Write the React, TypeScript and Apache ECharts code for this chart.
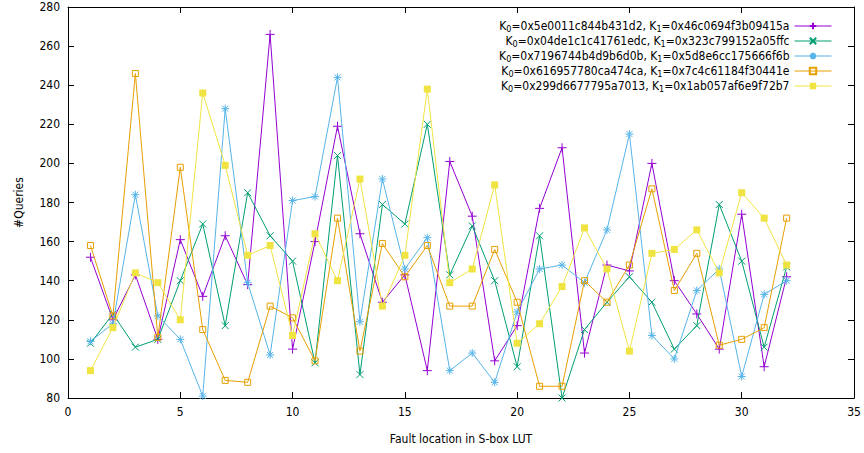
import React, { useEffect, useRef } from "react";
import * as echarts from "echarts";

const faultLocations = [1, 2, 3, 4, 5, 6, 7, 8, 9, 10, 11, 12, 13, 14, 15, 16, 17, 18, 19, 20, 21, 22, 23, 24, 25, 26, 27, 28, 29, 30, 31, 32];

const queriesA = [152, 120, 143, 110, 161, 132, 163, 138, 266, 105, 160, 219, 164, 129, 143, 94, 201, 173, 99, 117, 177, 208, 103, 148, 145, 200, 140, 123, 105, 174, 96, 142];
const queriesB = [108, 123, 106, 110, 140, 169, 117, 185, 163, 150, 98, 204, 92, 179, 169, 220, 143, 168, 140, 96, 163, 80, 115, 129, 142, 129, 105, 117, 179, 150, 106, 147];
const queriesC = [109, 118, 184, 122, 110, 81, 228, 139, 102, 181, 183, 244, 119, 192, 146, 162, 94, 103, 88, 124, 146, 148, 139, 166, 215, 112, 100, 135, 146, 91, 133, 140];
const queriesD = [158, 122, 246, 111, 198, 115, 89, 88, 127, 121, 99, 172, 104, 159, 142, 158, 127, 127, 156, 129, 86, 86, 140, 129, 148, 187, 135, 154, 107, 110, 116, 172];
const queriesE = [94, 116, 144, 139, 120, 236, 199, 153, 158, 112, 164, 140, 192, 127, 153, 238, 139, 146, 189, 108, 118, 137, 167, 146, 104, 154, 156, 166, 144, 185, 172, 148];

const seriesNames = [
  "K0=0x5e0011c844b431d2, K1=0x46c0694f3b09415a",
  "K0=0x04de1c1c41761edc, K1=0x323c799152a05ffc",
  "K0=0x7196744b4d9b6d0b, K1=0x5d8e6cc175666f6b",
  "K0=0x616957780ca474ca, K1=0x7c4c61184f30441e",
  "K0=0x299d6677795a7013, K1=0x1ab057af6e9f72b7",
];

const xTitle = "Fault location in S-box LUT";
const yTitle = "#Queries";

const FONT = "'DejaVu Sans Condensed', 'DejaVu Sans', sans-serif";

const colors = ["#9400d3", "#009e73", "#56b4e9", "#e69f00", "#f0e442"];
const symbols = [
  "path://M0,5L10,5M5,0L5,10",
  "path://M0,0L8,8M8,0L0,8",
  "path://M0,4L8,4M4,0L4,8M1,1L7,7M7,1L1,7",
  "path://M0,0L8,0L8,8L0,8Z",
  "rect",
];
const symbolSizes = [9, 7, 8, 6, 7];

function pair(vals: number[]) {
  return faultLocations.map((x, i) => [x, vals[i]]);
}

export default function App() {
  const ref = useRef<HTMLDivElement>(null);
  useEffect(() => {
    document.body.style.margin = "0";
    const chart = echarts.init(ref.current!, null, { renderer: "svg" });
    const allData = [queriesA, queriesB, queriesC, queriesD, queriesE];
    const series = allData.map((vals, i) => ({
      name: seriesNames[i],
      type: "line",
      data: pair(vals),
      symbol: symbols[i],
      symbolSize: symbolSizes[i],
      showAllSymbol: true,
      lineStyle: { color: colors[i], width: 1 },
      itemStyle:
        i === 3
          ? { color: "rgba(0,0,0,0)", borderColor: colors[i], borderWidth: 1 }
          : i === 4
          ? { color: colors[i] }
          : { color: colors[i], borderColor: colors[i], borderWidth: 1 },
      emphasis: { disabled: true },
      z: 2 + i,
    }));
    const axisCommon = {
      axisLine: { show: true, onZero: false, lineStyle: { color: "#000", width: 1 } },
      axisTick: { show: true, inside: true, length: 6, lineStyle: { color: "#000" } },
      splitLine: { show: false },
    };
    chart.setOption({
      animation: false,
      backgroundColor: "#fff",
      textStyle: { fontFamily: FONT },
      grid: { left: 68, right: 10, top: 7, bottom: 55 },
      legend: {
        orient: "vertical",
        right: 27,
        top: 15,
        align: "right",
        itemWidth: 37,
        itemHeight: 8,
        itemGap: 2,
        selectedMode: false,
        data: seriesNames,
        lineStyle: { width: 1 },
        formatter: (n: string) => n.replace(/K([01])=/g, "K{s|$1}="),
        textStyle: {
          color: "#000",
          fontSize: 12,
          fontFamily: FONT,
          rich: {
            s: { fontSize: 9, fontFamily: FONT, color: "#000", verticalAlign: "bottom", lineHeight: 14 },
          },
        },
      },
      xAxis: [
        {
          type: "value",
          position: "bottom",
          min: 0,
          max: 35,
          interval: 5,
          ...axisCommon,
          axisLabel: { color: "#000", fontSize: 12, margin: 8, fontFamily: FONT },
          name: xTitle,
          nameLocation: "middle",
          nameGap: 35,
          nameTextStyle: { color: "#000", fontSize: 12, fontFamily: FONT },
        },
        {
          type: "value",
          position: "top",
          min: 0,
          max: 35,
          interval: 5,
          ...axisCommon,
          axisLabel: { show: false },
        },
      ],
      yAxis: [
        {
          type: "value",
          position: "left",
          min: 80,
          max: 280,
          interval: 20,
          ...axisCommon,
          axisLabel: { color: "#000", fontSize: 12, margin: 8, fontFamily: FONT },
          name: yTitle,
          nameLocation: "middle",
          nameGap: 43,
          nameRotate: 90,
          nameTextStyle: { color: "#000", fontSize: 12, fontFamily: FONT },
        },
        {
          type: "value",
          position: "right",
          min: 80,
          max: 280,
          interval: 20,
          ...axisCommon,
          axisLabel: { show: false },
        },
      ],
      series,
    });
    return () => chart.dispose();
  }, []);
  return <div ref={ref} style={{ width: 864, height: 453 }} />;
}
